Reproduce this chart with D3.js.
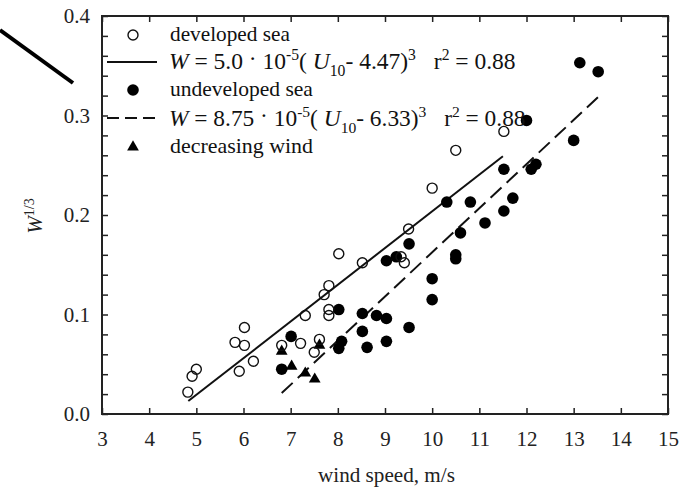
<!DOCTYPE html>
<html>
<head>
<meta charset="utf-8">
<script src="https://cdn.jsdelivr.net/npm/d3@7"></script>
<style>
  body { margin: 0; background: #fff; }
  .axis text { font-size: 21px; fill: #222; }
  .axis line { stroke: #222; stroke-width: 1.5; }
  .axis .domain { display: none; }
</style>
</head>
<body>
<svg></svg>
<script>

// wind speed (m/s), W^(1/3)
var developed = [
  [4.82, 0.022], [4.91, 0.038], [5.0, 0.045], [5.82, 0.072], [5.91, 0.043],
  [6.02, 0.087], [6.02, 0.069], [6.21, 0.053], [6.81, 0.069], [7.21, 0.071],
  [7.31, 0.099], [7.5, 0.062], [7.61, 0.075], [7.71, 0.12], [7.81, 0.129],
  [7.81, 0.105], [7.81, 0.099], [8.02, 0.161], [8.52, 0.152], [9.34, 0.158],
  [9.41, 0.152], [9.5, 0.186], [10.0, 0.227], [10.5, 0.265], [11.52, 0.284]
];

var undeveloped = [
  [6.81, 0.045], [7.01, 0.078], [8.02, 0.066], [8.02, 0.105], [8.08, 0.073],
  [8.52, 0.101], [8.52, 0.083], [8.62, 0.067], [8.82, 0.099], [9.03, 0.096],
  [9.03, 0.073], [9.03, 0.154], [9.24, 0.158], [9.51, 0.171], [9.51, 0.087],
  [10.0, 0.136], [10.0, 0.115], [10.31, 0.213], [10.5, 0.160], [10.5, 0.156],
  [10.6, 0.182], [10.81, 0.213], [11.12, 0.192], [11.52, 0.246], [11.52, 0.204],
  [11.71, 0.217], [12.0, 0.295], [12.1, 0.246], [12.2, 0.251], [13.0, 0.275],
  [13.13, 0.353], [13.52, 0.344]
];

var decreasing = [
  [6.81, 0.063], [7.02, 0.048], [7.31, 0.041], [7.51, 0.035], [7.61, 0.069]
];

// fitted lines, end points
var fitDeveloped = [[4.83, 0.013], [11.5, 0.259]];
var fitUndeveloped = [[6.81, 0.021], [13.53, 0.319]];

var xTicks = [3, 4, 5, 6, 7, 8, 9, 10, 11, 12, 13, 14, 15];
var yTicks = [0, 0.1, 0.2, 0.3, 0.4];
var yMinor = [0.02, 0.04, 0.06, 0.08, 0.12, 0.14, 0.16, 0.18, 0.22, 0.24, 0.26, 0.28, 0.32, 0.34, 0.36, 0.38];

var serif = '"Times New Roman", "Liberation Serif", "DejaVu Serif", serif';

var svg = d3.select('svg')
   .attr('width', 691)
   .attr('height', 490)
   .attr('font-family', serif)

var x = d3.scaleLinear().domain([3, 15]).range([102, 668]);
var y = d3.scaleLinear().domain([0, 0.4]).range([414, 16]);

// stray stroke top-left of the scan
svg.append('line')
   .attr('x1', 0).attr('y1', 30)
   .attr('x2', 73).attr('y2', 83)
   .attr('stroke', '#000')
   .attr('stroke-width', 4);

// axes, ticks inward
function fixFont(g) {
   g.attr('font-family', serif).attr('font-size', null);
}

svg.append('g')
   .attr('class', 'axis')
   .attr('transform', 'translate(0,414)')
   .call(d3.axisBottom(x).tickValues(xTicks).tickSize(-6).tickPadding(17)
      .tickFormat(d3.format('d')))
   .call(fixFont);

svg.append('g')
   .attr('class', 'axis')
   .attr('transform', 'translate(0,16)')
   .call(d3.axisTop(x).tickValues(xTicks).tickSize(-6).tickFormat(''));

svg.append('g')
   .attr('class', 'axis')
   .attr('transform', 'translate(102,0)')
   .call(d3.axisLeft(y).tickValues(yTicks).tickSize(-6).tickPadding(12)
      .tickFormat(d3.format('.1f')))
   .call(fixFont);

svg.append('g')
   .attr('class', 'axis')
   .attr('transform', 'translate(102,0)')
   .call(d3.axisLeft(y).tickValues(yMinor).tickSize(-6).tickFormat(''));

svg.append('g')
   .attr('class', 'axis')
   .attr('transform', 'translate(668,0)')
   .call(d3.axisRight(y).tickValues(yTicks.concat(yMinor)).tickSize(-6).tickFormat(''));

svg.append('rect')
   .attr('x', 102).attr('y', 16)
   .attr('width', 566).attr('height', 398)
   .attr('fill', 'none')
   .attr('stroke', '#222')
   .attr('stroke-width', 2);

// fit lines
var line = d3.line()
   .x(function (d) { return x(d[0]); })
   .y(function (d) { return y(d[1]); });

svg.append('path')
   .datum(fitDeveloped)
   .attr('d', line)
   .attr('fill', 'none')
   .attr('stroke', '#111')
   .attr('stroke-width', 2);

svg.append('path')
   .datum(fitUndeveloped)
   .attr('d', line)
   .attr('fill', 'none')
   .attr('stroke', '#111')
   .attr('stroke-width', 2)
   .attr('stroke-dasharray', '15,7');

// points
svg.append('g')
   .selectAll('circle')
   .data(undeveloped)
   .enter()
   .append('circle')
   .attr('cx', function (d) { return x(d[0]); })
   .attr('cy', function (d) { return y(d[1]); })
   .attr('r', 5.8)
   .attr('fill', '#000');

svg.append('g')
   .selectAll('path')
   .data(decreasing)
   .enter()
   .append('path')
   .attr('d', d3.symbol().type(d3.symbolTriangle).size(60))
   .attr('transform', function (d) { return 'translate(' + x(d[0]) + ',' + y(d[1]) + ')'; })
   .attr('fill', '#000');

svg.append('g')
   .selectAll('circle')
   .data(developed)
   .enter()
   .append('circle')
   .attr('cx', function (d) { return x(d[0]); })
   .attr('cy', function (d) { return y(d[1]); })
   .attr('r', 5)
   .attr('fill', 'none')
   .attr('stroke', '#111')
   .attr('stroke-width', 1.4);

// scale a text (anchored at 0,0) so its width matches the reference
function place(t, x0, y0, width) {
   var len = t.node().getComputedTextLength();
   var s = width / len;
   t.attr('transform', 'translate(' + x0 + ',' + y0 + ') scale(' + s + ')');
}

// legend
var legend = svg.append('g').style('font-size', '21px').attr('fill', '#111');

legend.append('circle')
   .attr('cx', 133).attr('cy', 35).attr('r', 5)
   .attr('fill', 'none').attr('stroke', '#111').attr('stroke-width', 1.4);
place(legend.append('text').text('developed sea'), 170, 41, 120);

legend.append('line')
   .attr('x1', 107).attr('x2', 157).attr('y1', 62).attr('y2', 62)
   .attr('stroke', '#111').attr('stroke-width', 2);

legend.append('circle')
   .attr('cx', 133).attr('cy', 90).attr('r', 5.8).attr('fill', '#000');
place(legend.append('text').text('undeveloped sea'), 170, 96, 143);

legend.append('line')
   .attr('x1', 107).attr('x2', 157).attr('y1', 118).attr('y2', 118)
   .attr('stroke', '#111').attr('stroke-width', 2)
   .attr('stroke-dasharray', '12,6');

legend.append('path')
   .attr('d', d3.symbol().type(d3.symbolTriangle).size(60))
   .attr('transform', 'translate(133,147)')
   .attr('fill', '#000');
place(legend.append('text').text('decreasing wind'), 170, 153, 143);

function formula(yPos, coef, offset, width) {
   var t = legend.append('text');
   t.append('tspan').style('font-style', 'italic').text('W');
   t.append('tspan').text(' = ' + coef + ' ');
   t.append('tspan').attr('dy', -3).text('\u00B7');
   t.append('tspan').attr('dy', 3).text(' 10');
   t.append('tspan').attr('dy', -8).style('font-size', '14px').text('-5');
   t.append('tspan').attr('dy', 8).text('( ');
   t.append('tspan').style('font-style', 'italic').text('U');
   t.append('tspan').attr('dy', 6).style('font-size', '14px').text('10');
   t.append('tspan').attr('dy', -6).text('- ' + offset + ')');
   t.append('tspan').attr('dy', -8).style('font-size', '14px').text('3');
   t.append('tspan').attr('dy', 8).attr('dx', 16).text('r');
   t.append('tspan').attr('dy', -8).style('font-size', '14px').text('2');
   t.append('tspan').attr('dy', 8).text(' = 0.88');
   place(t, 169, yPos, width);
}
formula(69, '5.0', '4.47', 329);
formula(126, '8.75', '6.33', 339);

// axis titles
var xt = svg.append('text')
   .style('font-size', '21px')
   .attr('fill', '#222')
   .text('wind speed, m/s');
place(xt, 318, 482, 137);

var yl = svg.append('text')
   .attr('transform', 'translate(42,216) rotate(-90)')
   .attr('text-anchor', 'middle')
   .style('font-size', '21px')
   .attr('fill', '#222');
yl.append('tspan').style('font-style', 'italic').text('W');
yl.append('tspan').attr('dy', -8).style('font-size', '14px').text('1/3');

</script>
</body>
</html>
